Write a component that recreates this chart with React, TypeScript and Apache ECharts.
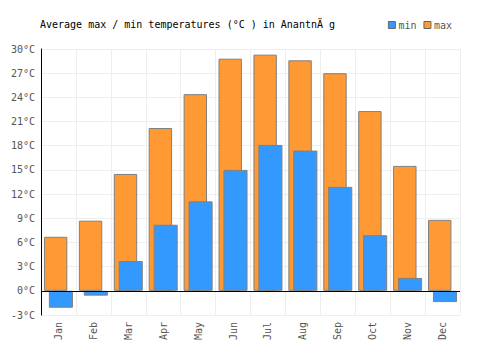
import React, { useEffect, useRef } from "react";
import * as echarts from "echarts";

const months = ["Jan", "Feb", "Mar", "Apr", "May", "Jun", "Jul", "Aug", "Sep", "Oct", "Nov", "Dec"];
const maxTemps = [6.7, 8.7, 14.5, 20.2, 24.4, 28.8, 29.3, 28.6, 27.0, 22.3, 15.5, 8.8];
const minTemps = [-2.1, -0.6, 3.7, 8.2, 11.1, 15.0, 18.1, 17.4, 12.9, 6.9, 1.6, -1.4];
const titleText = "Average max / min temperatures (°C ) in Anantn\u00C4 g";

const FONT = "DejaVu Sans Mono";

export default function App() {
  const ref = useRef<HTMLDivElement>(null);
  useEffect(() => {
    if (!ref.current) return;
    const chart = echarts.init(ref.current, undefined, { renderer: "svg" });
    chart.setOption({
      animation: false,
      title: {
        text: titleText,
        left: 35,
        top: 14,
        textStyle: { fontFamily: FONT, fontSize: 10, fontWeight: "normal", color: "#000" },
      },
      legend: {
        data: ["min", "max"],
        right: 43,
        top: 15,
        icon: "rect",
        itemWidth: 7,
        itemHeight: 7,
        itemGap: 7,
        itemStyle: { borderColor: "#666", borderWidth: 1 },
        textStyle: { fontFamily: FONT, fontSize: 10, color: "#555", padding: [0, 0, 0, -2] },
      },
      grid: { left: 41, right: 40, top: 49, bottom: 35, containLabel: false },
      xAxis: {
        type: "category",
        data: months,
        axisLine: { show: false },
        axisTick: { show: false },
        splitLine: { show: true, lineStyle: { color: "#eeeeee", width: 1 } },
        axisLabel: { rotate: 90, fontFamily: FONT, fontSize: 10, color: "#555", margin: 7 },
      },
      yAxis: {
        type: "value",
        min: -3,
        max: 30,
        interval: 3,
        axisLine: { show: true, lineStyle: { color: "#000", width: 1 } },
        axisTick: { show: false },
        splitLine: { show: true, lineStyle: { color: "#eeeeee", width: 1 } },
        axisLabel: { formatter: "{value}°C", fontFamily: FONT, fontSize: 10, color: "#555", margin: 6 },
      },
      series: [
        {
          name: "max",
          type: "bar",
          data: maxTemps,
          barWidth: "67%",
          barGap: "-79%",
          itemStyle: { color: "#ff9933", borderColor: "#808080", borderWidth: 1 },
          markLine: {
            silent: true,
            symbol: ["none", "none"],
            label: { show: false },
            lineStyle: { color: "#000", type: "solid", width: 1 },
            data: [{ yAxis: 0 }],
          },
        },
        {
          name: "min",
          type: "bar",
          data: minTemps,
          barWidth: "69%",
          barGap: "-79%",
          itemStyle: { color: "#3399ff", borderColor: "#808080", borderWidth: 1 },
        },
      ],
    });
    return () => chart.dispose();
  }, []);
  return <div ref={ref} style={{ width: 500, height: 350, position: "absolute", left: 0, top: 0 }} />;
}
